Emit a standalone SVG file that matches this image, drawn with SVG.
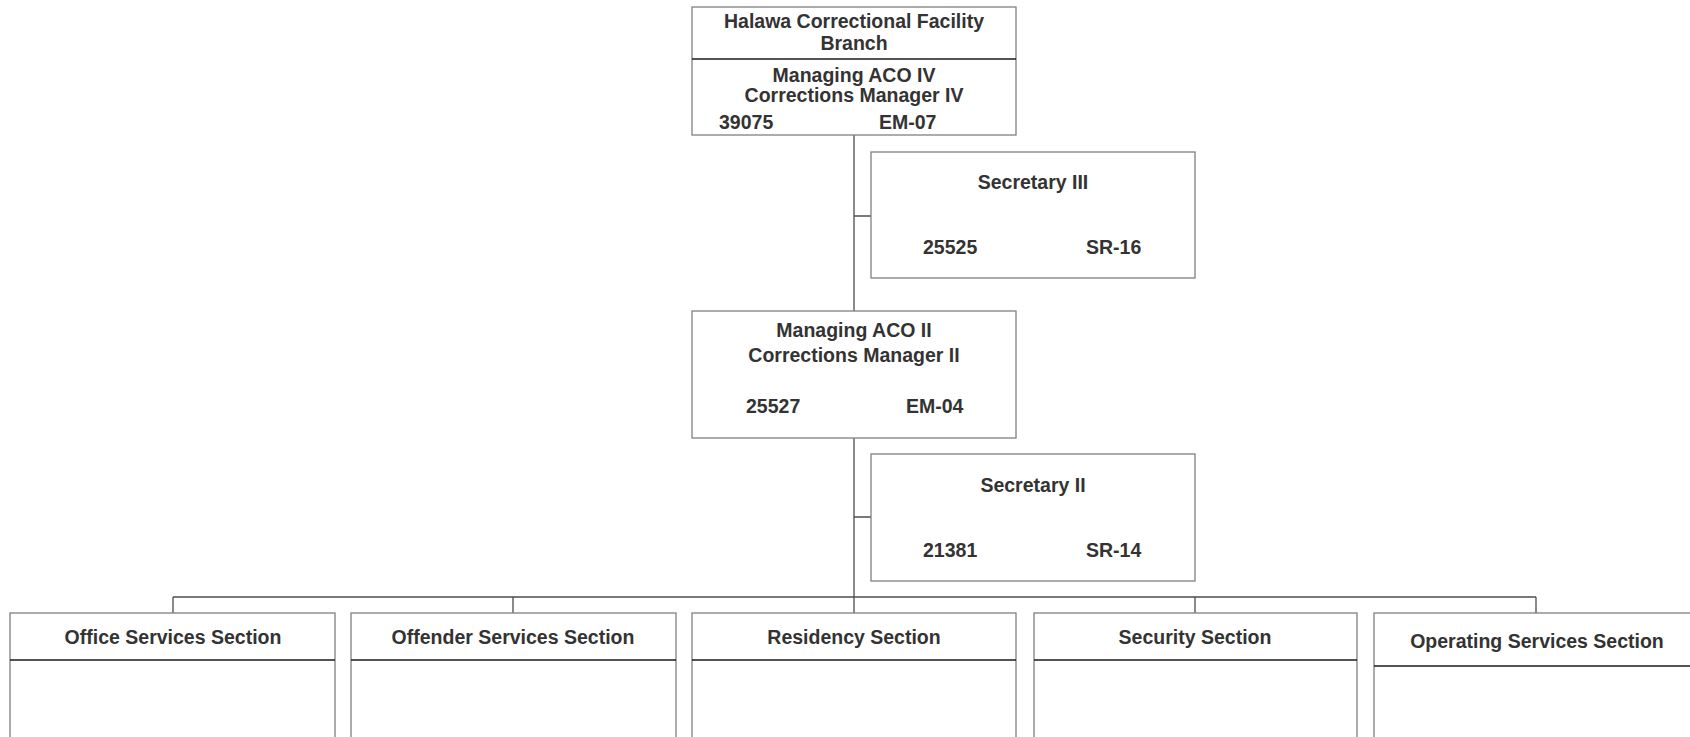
<svg xmlns="http://www.w3.org/2000/svg" width="1690" height="737" viewBox="0 0 1690 737">
<style>
.box{fill:#fff;stroke:#808080;stroke-width:1.3}
.div{stroke:#1a1a1a;stroke-width:1.5}
.conn{fill:none;stroke:#4d4d4d;stroke-width:1.3}
text{font-family:"Liberation Sans",Arial,sans-serif;font-weight:bold;font-size:19.5px;fill:#333}
.c{text-anchor:middle}
</style>
<rect width="1690" height="737" fill="#fff"/>
<g id="connectors">
<path class="conn" d="M854 135V613M854 216H871M854 517H871M173 597H1536M173 597V613M513 597V613M1195 597V613M1536 597V613"/>
</g>
<g id="branch">
<rect class="box" x="692" y="7" width="324" height="128"/>
<line class="div" x1="692" y1="59" x2="1016" y2="59"/>
<text class="c" x="854" y="28">Halawa Correctional Facility</text>
<text class="c" x="854" y="50">Branch</text>
<text class="c" x="854" y="82">Managing ACO IV</text>
<text class="c" x="854" y="102">Corrections Manager IV</text>
<text x="719" y="129">39075</text>
<text x="879" y="129">EM-07</text>
</g>
<g id="secretary3">
<rect class="box" x="871" y="152" width="324" height="126"/>
<text class="c" x="1033" y="189">Secretary III</text>
<text x="923" y="254">25525</text>
<text x="1086" y="254">SR-16</text>
</g>
<g id="manager2">
<rect class="box" x="692" y="311" width="324" height="127"/>
<text class="c" x="854" y="337">Managing ACO II</text>
<text class="c" x="854" y="362">Corrections Manager II</text>
<text x="746" y="413">25527</text>
<text x="906" y="413">EM-04</text>
</g>
<g id="secretary2">
<rect class="box" x="871" y="454" width="324" height="127"/>
<text class="c" x="1033" y="492">Secretary II</text>
<text x="923" y="557">21381</text>
<text x="1086" y="557">SR-14</text>
</g>
<g id="office">
<rect class="box" x="10" y="613" width="325" height="150"/>
<line class="div" x1="10" y1="660" x2="335" y2="660"/>
<text class="c" x="173" y="644">Office Services Section</text>
</g>
<g id="offender">
<rect class="box" x="351" y="613" width="325" height="150"/>
<line class="div" x1="351" y1="660" x2="676" y2="660"/>
<text class="c" x="513" y="644">Offender Services Section</text>
</g>
<g id="residency">
<rect class="box" x="692" y="613" width="324" height="150"/>
<line class="div" x1="692" y1="660" x2="1016" y2="660"/>
<text class="c" x="854" y="644">Residency Section</text>
</g>
<g id="security">
<rect class="box" x="1034" y="613" width="323" height="150"/>
<line class="div" x1="1034" y1="660" x2="1357" y2="660"/>
<text class="c" x="1195" y="644">Security Section</text>
</g>
<g id="operating">
<rect class="box" x="1374" y="613" width="324" height="150"/>
<line class="div" x1="1374" y1="666" x2="1698" y2="666"/>
<text class="c" x="1537" y="648">Operating Services Section</text>
</g>
</svg>
